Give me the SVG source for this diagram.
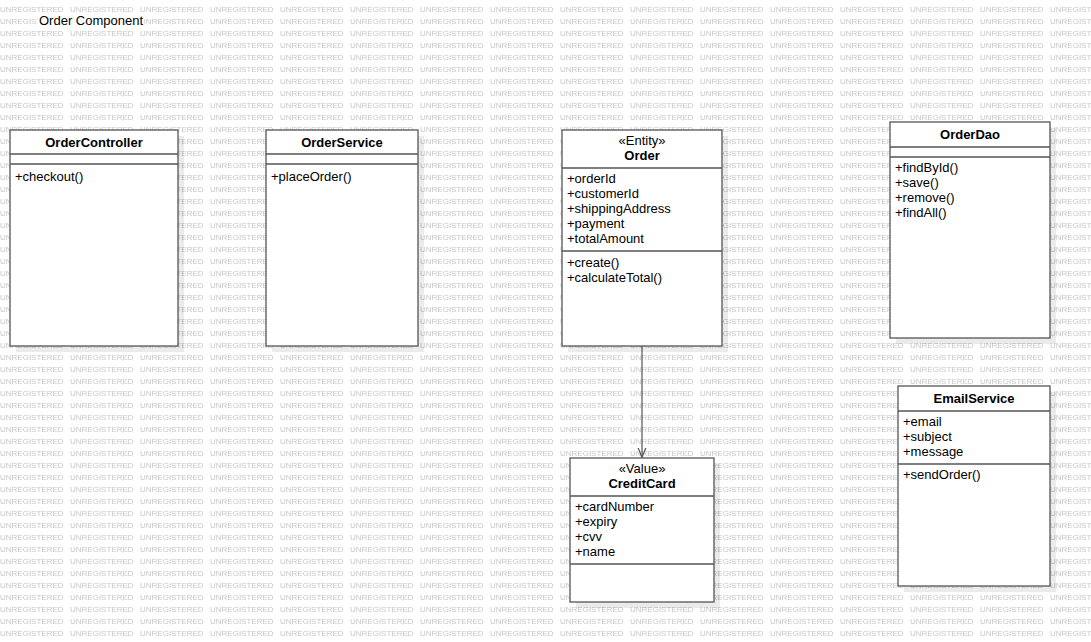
<svg xmlns="http://www.w3.org/2000/svg" width="1091" height="642" viewBox="0 0 1091 642">
<style>
.box{fill:#ffffff;stroke:#555555;stroke-width:1.3}
.sh{fill:#000000;fill-opacity:0.08}
.div{stroke:#555555;stroke-width:1.3}
.t{font-family:"Liberation Sans",Arial,sans-serif;font-size:13px;fill:#000000}
.b{font-weight:bold;text-anchor:middle}
.c{text-anchor:middle}
.wm{font-family:"Liberation Sans",Arial,sans-serif;font-size:8px;fill:#c6c6c6}
.edge{stroke:#555555;stroke-width:1.2;fill:none}
</style>
<defs>
<pattern id="wmark" x="0" y="0" width="70" height="12" patternUnits="userSpaceOnUse">
<text class="wm" x="0" y="11.6">UNREGISTERED</text>
</pattern>
<marker id="open" markerWidth="12" markerHeight="12" refX="10" refY="5" orient="auto" markerUnits="userSpaceOnUse">
<path d="M0,1 L10,5 L0,9" fill="none" stroke="#555555" stroke-width="1.2"/>
</marker>
</defs>
<rect x="0" y="0" width="1091" height="642" fill="#ffffff"/>
<rect x="0" y="0" width="1091" height="642" fill="url(#wmark)"/>
<g id="title">
<rect x="38" y="13" width="106" height="16" fill="#ffffff"/>
<text class="t" x="39" y="25">Order Component</text>
</g>
<g id="connectors">
<line class="edge" x1="642" y1="346" x2="642" y2="457.5" marker-end="url(#open)"/>
</g>
<g id="OrderController">
<rect class="sh" x="16" y="136" width="168" height="216"/>
<rect class="box" x="10" y="130" width="168" height="216"/>
<line class="div" x1="10" y1="154" x2="178" y2="154"/>
<line class="div" x1="10" y1="164" x2="178" y2="164"/>
<text class="t b" x="94" y="147">OrderController</text>
<text class="t" x="15" y="181">+checkout()</text>
</g>
<g id="OrderService">
<rect class="sh" x="272" y="136" width="152" height="216"/>
<rect class="box" x="266" y="130" width="152" height="216"/>
<line class="div" x1="266" y1="154" x2="418" y2="154"/>
<line class="div" x1="266" y1="164" x2="418" y2="164"/>
<text class="t b" x="342" y="147">OrderService</text>
<text class="t" x="271" y="181">+placeOrder()</text>
</g>
<g id="Order">
<rect class="sh" x="568" y="136" width="160" height="216"/>
<rect class="box" x="562" y="130" width="160" height="216"/>
<line class="div" x1="562" y1="168" x2="722" y2="168"/>
<line class="div" x1="562" y1="251" x2="722" y2="251"/>
<text class="t c" x="642" y="145">«Entity»</text>
<text class="t b" x="642" y="160">Order</text>
<text class="t" x="567" y="183">+orderId</text>
<text class="t" x="567" y="198">+customerId</text>
<text class="t" x="567" y="213">+shippingAddress</text>
<text class="t" x="567" y="228">+payment</text>
<text class="t" x="567" y="243">+totalAmount</text>
<text class="t" x="567" y="267">+create()</text>
<text class="t" x="567" y="282">+calculateTotal()</text>
</g>
<g id="OrderDao">
<rect class="sh" x="896" y="128" width="160" height="216"/>
<rect class="box" x="890" y="122" width="160" height="216"/>
<line class="div" x1="890" y1="147" x2="1050" y2="147"/>
<line class="div" x1="890" y1="157" x2="1050" y2="157"/>
<text class="t b" x="970" y="139">OrderDao</text>
<text class="t" x="895" y="172">+findById()</text>
<text class="t" x="895" y="187">+save()</text>
<text class="t" x="895" y="202">+remove()</text>
<text class="t" x="895" y="217">+findAll()</text>
</g>
<g id="EmailService">
<rect class="sh" x="904" y="392" width="152" height="200"/>
<rect class="box" x="898" y="386" width="152" height="200"/>
<line class="div" x1="898" y1="411" x2="1050" y2="411"/>
<line class="div" x1="898" y1="464" x2="1050" y2="464"/>
<text class="t b" x="974" y="403">EmailService</text>
<text class="t" x="903" y="426">+email</text>
<text class="t" x="903" y="441">+subject</text>
<text class="t" x="903" y="456">+message</text>
<text class="t" x="903" y="479">+sendOrder()</text>
</g>
<g id="CreditCard">
<rect class="sh" x="576" y="464" width="144" height="144"/>
<rect class="box" x="570" y="458" width="144" height="144"/>
<line class="div" x1="570" y1="496" x2="714" y2="496"/>
<line class="div" x1="570" y1="564" x2="714" y2="564"/>
<text class="t c" x="642" y="473">«Value»</text>
<text class="t b" x="642" y="488">CreditCard</text>
<text class="t" x="575" y="511">+cardNumber</text>
<text class="t" x="575" y="526">+expiry</text>
<text class="t" x="575" y="541">+cvv</text>
<text class="t" x="575" y="556">+name</text>
</g>
</svg>
